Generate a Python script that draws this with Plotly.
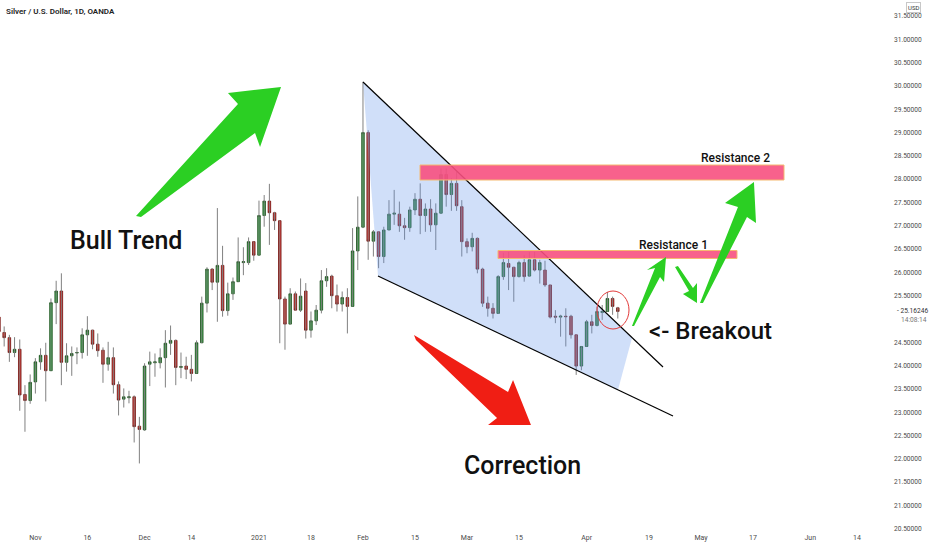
import pandas as pd
import plotly.graph_objects as go

# OANDA XAG/USD daily bars, 22 Oct 2020 - 9 Apr 2021 (no bars on 25 Dec / 1 Jan)
HOLIDAYS = ["2020-12-25", "2021-01-01"]
dates = pd.bdate_range("2020-10-22", "2021-04-09", freq="C", holidays=HOLIDAYS)

opens = [
    25.04, 24.71, 24.60, 24.28, 24.35, 23.38, 23.25, 23.65, 24.08, 24.22,
    23.89, 25.35, 25.60, 24.07, 24.21, 24.27, 24.28, 24.66, 24.76, 24.46,
    24.33, 24.03, 24.17, 23.59, 23.28, 23.31, 23.33, 22.70, 22.62, 24.03,
    24.06, 24.06, 24.17, 24.48, 24.54, 23.96, 23.99, 23.92, 23.83, 24.49,
    25.34, 26.07, 25.79, 26.15, 25.18, 25.54, 25.80, 26.21, 26.21, 26.66,
    26.37, 27.22, 27.53, 27.28, 27.11, 25.43, 24.89, 25.54, 25.19, 25.60,
    24.76, 24.96, 25.19, 25.82, 25.92, 25.50, 25.32, 25.46, 25.27, 26.46,
    26.97, 29.00, 26.67, 26.87, 26.34, 26.91, 27.25, 27.25, 27.00, 26.96,
    27.34, 27.57, 27.22, 27.36, 27.02, 27.27, 28.10, 27.67, 27.91, 27.41,
    26.66, 26.55, 26.73, 26.07, 25.34, 25.23, 25.12, 25.91, 26.19, 26.11,
    25.91, 26.21, 25.92, 26.27, 26.05, 26.05, 25.73, 25.06, 25.04, 25.06,
    25.06, 24.66, 23.99, 24.41, 24.94, 24.86, 25.14, 25.16, 25.44, 25.24,
]
highs = [
    25.09, 24.84, 24.66, 24.61, 24.56, 23.58, 23.81, 24.16, 24.37, 24.49,
    25.44, 25.82, 25.98, 24.48, 24.41, 24.39, 24.80, 25.06, 24.77, 24.69,
    24.39, 24.51, 24.39, 23.66, 23.51, 23.46, 23.36, 22.90, 24.05, 24.30,
    24.26, 24.37, 24.76, 24.86, 24.56, 24.28, 24.19, 24.23, 24.54, 25.48,
    26.11, 26.09, 27.38, 26.57, 25.78, 25.89, 26.75, 26.54, 26.75, 26.66,
    27.54, 27.66, 27.90, 27.30, 27.11, 25.48, 25.66, 25.59, 25.87, 25.77,
    25.16, 25.30, 26.05, 26.09, 25.95, 25.74, 25.59, 25.66, 26.95, 27.63,
    30.09, 29.05, 26.91, 26.87, 26.98, 27.55, 27.77, 27.52, 27.17, 27.41,
    27.70, 27.91, 27.48, 27.57, 27.48, 28.23, 28.23, 28.02, 28.16, 27.55,
    26.73, 26.85, 26.75, 26.10, 25.48, 25.34, 25.94, 26.42, 26.44, 26.12,
    26.25, 26.37, 26.44, 26.44, 26.27, 26.25, 25.73, 25.19, 25.09, 25.23,
    25.09, 24.66, 24.41, 24.98, 25.09, 25.26, 25.30, 25.58, 25.48, 25.26,
]
lows = [
    24.71, 24.41, 24.08, 24.18, 23.03, 22.58, 23.18, 23.40, 23.91, 23.23,
    23.89, 24.89, 23.58, 23.87, 23.78, 24.03, 24.15, 24.21, 24.35, 24.19,
    23.63, 23.89, 23.40, 22.93, 23.10, 23.19, 22.35, 21.90, 22.60, 23.56,
    23.76, 23.94, 23.53, 24.23, 23.58, 23.73, 23.71, 23.66, 23.83, 24.48,
    25.14, 25.62, 24.94, 25.05, 25.07, 25.41, 25.80, 25.94, 26.16, 26.25,
    26.37, 26.98, 26.59, 26.91, 24.48, 24.34, 24.89, 25.18, 25.15, 24.58,
    24.60, 24.87, 25.12, 25.69, 25.23, 25.16, 25.16, 24.69, 25.27, 26.05,
    26.95, 26.27, 26.34, 26.09, 26.20, 26.91, 27.02, 26.87, 26.70, 26.87,
    27.23, 26.82, 26.87, 26.87, 26.48, 27.27, 27.41, 27.32, 27.32, 26.34,
    26.41, 26.45, 25.98, 25.26, 25.05, 25.01, 25.11, 25.84, 25.62, 25.37,
    25.89, 25.80, 25.91, 26.02, 25.76, 25.69, 25.01, 24.91, 24.62, 24.41,
    24.58, 23.80, 23.90, 24.41, 24.69, 24.84, 24.98, 25.16, 25.09, 25.01,
]
closes = [
    24.73, 24.60, 24.28, 24.35, 23.37, 23.25, 23.64, 24.08, 24.22, 23.89,
    25.35, 25.60, 24.07, 24.21, 24.26, 24.28, 24.66, 24.76, 24.46, 24.32,
    24.03, 24.17, 23.59, 23.26, 23.33, 23.33, 22.69, 22.63, 23.99, 24.08,
    24.08, 24.17, 24.48, 24.54, 23.96, 23.98, 23.92, 23.83, 24.49, 25.34,
    26.07, 25.79, 26.15, 25.18, 25.54, 25.80, 26.23, 26.23, 26.66, 26.37,
    27.22, 27.53, 27.28, 27.11, 25.43, 24.89, 25.54, 25.19, 25.49, 24.76,
    24.96, 25.19, 25.82, 25.91, 25.50, 25.32, 25.46, 25.27, 26.46, 26.97,
    29.00, 26.67, 26.87, 26.34, 26.91, 27.25, 27.27, 27.00, 26.96, 27.34,
    27.57, 27.22, 27.36, 27.02, 27.27, 28.10, 27.67, 27.91, 27.43, 26.66,
    26.55, 26.73, 26.07, 25.34, 25.23, 25.12, 25.91, 26.21, 26.11, 25.91,
    26.21, 25.91, 26.27, 26.05, 26.21, 25.73, 25.04, 25.04, 25.06, 25.05,
    24.66, 23.99, 24.41, 24.94, 24.86, 25.16, 25.16, 25.44, 25.27, 25.16246,
]

last_price = 25.16246
countdown = "14:08:14"

tick_dates = ["2020-11-02", "2020-11-16", "2020-12-01", "2020-12-14", "2021-01-04",
              "2021-01-18", "2021-02-01", "2021-02-15", "2021-03-01", "2021-03-15",
              "2021-04-01", "2021-04-19", "2021-05-03", "2021-05-17", "2021-06-01",
              "2021-06-14"]
tick_text = ["Nov", "16", "Dec", "14", "2021", "18", "Feb", "15", "Mar", "15",
             "Apr", "19", "May", "17", "Jun", "14"]
price_ticks = [20.5, 21.0, 21.5, 22.0, 22.5, 23.0, 23.5, 24.0, 24.5,
               25.5, 26.0, 26.5, 27.0, 27.5, 28.0, 28.5, 29.0, 29.5,
               30.0, 30.5, 31.0, 31.5]

# plot area in pixels, used to place the hand-drawn overlays
PW, PH = 893, 532


def paper(x, y):
    return x / PW, 1 - y / PH


def poly(points):
    pts = [paper(x, y) for x, y in points]
    return "M " + " L ".join(f"{a:.4f},{b:.4f}" for a, b in pts) + " Z"


body_top = [max(o, c) for o, c in zip(opens, closes)]
body_bot = [min(o, c) for o, c in zip(opens, closes)]

wick_x, wick_y = [], []
for d, lo, hi in zip(dates, lows, highs):
    wick_x += [d, d, None]
    wick_y += [lo, hi, None]

fig = go.Figure()

fig.add_trace(go.Scatter(
    x=wick_x, y=wick_y, mode="lines",
    line=dict(color="#808080", width=1),
    hoverinfo="skip", showlegend=False,
))
fig.add_trace(go.Candlestick(
    x=dates, open=opens, high=body_top, low=body_bot, close=closes,
    increasing=dict(fillcolor="#24a436", line=dict(color="#1c4d1c", width=0.8)),
    decreasing=dict(fillcolor="#e3201b", line=dict(color="#6b1511", width=0.8)),
    whiskerwidth=0, showlegend=False,
))

GREEN = "#2bcf23"
RED = "#f01e14"
PINK = "rgba(247,80,128,0.9)"

shapes = [
    # falling wedge fill and its two trend lines
    dict(type="path", path=poly([(363, 82), (632, 338), (618, 390), (378, 276)]),
         fillcolor="rgba(100,150,235,0.3)", line=dict(width=0)),
    dict(type="line", x0=paper(363, 82)[0], y0=paper(363, 82)[1],
         x1=paper(663, 367)[0], y1=paper(663, 367)[1], line=dict(color="black", width=1.2)),
    dict(type="line", x0=paper(378, 276)[0], y0=paper(378, 276)[1],
         x1=paper(673, 416)[0], y1=paper(673, 416)[1], line=dict(color="black", width=1.2)),
    # resistance zones
    dict(type="rect", x0=paper(420, 0)[0], x1=paper(784, 0)[0],
         y0=paper(0, 165)[1], y1=paper(0, 180)[1],
         fillcolor=PINK, line=dict(color="#f5b971", width=1)),
    dict(type="rect", x0=paper(498, 0)[0], x1=paper(737, 0)[0],
         y0=paper(0, 250.5)[1], y1=paper(0, 258.5)[1],
         fillcolor=PINK, line=dict(color="#f5b971", width=1)),
    # breakout circle
    dict(type="circle", x0=paper(597, 0)[0], x1=paper(629, 0)[0],
         y0=paper(0, 291)[1], y1=paper(0, 329)[1],
         line=dict(color="#e23a3a", width=1)),
    # arrows
    dict(type="path", path=poly([(136, 216), (238, 104), (228, 93), (281, 87),
                                 (260, 147), (255, 133), (141, 217)]),
         fillcolor=GREEN, line=dict(width=0)),
    dict(type="path", path=poly([(414, 335), (508, 392), (513, 380), (531, 425),
                                 (488, 425), (497, 418), (416, 340)]),
         fillcolor=RED, line=dict(width=0)),
    dict(type="path", path=poly([(632, 326), (655, 268), (647, 270), (666, 257),
                                 (664, 282), (660, 277), (634, 326)]),
         fillcolor=GREEN, line=dict(width=0)),
    dict(type="path", path=poly([(675, 267), (689, 291), (683, 294), (697, 303),
                                 (697, 283), (693, 288), (678, 266)]),
         fillcolor=GREEN, line=dict(width=0)),
    dict(type="path", path=poly([(700, 303), (738, 207), (725, 203), (754, 182),
                                 (756, 223), (747, 217), (703, 303)]),
         fillcolor=GREEN, line=dict(width=0)),
]
for s in shapes:
    s.setdefault("xref", "paper")
    s.setdefault("yref", "paper")
    fig.add_shape(**s)

TEXT_FONT = "Roboto, Liberation Sans, sans-serif"


def label(text, x, y, size, color="#111111", anchor="center", weight=500):
    px_, py_ = paper(x, y)
    fig.add_annotation(x=px_, y=py_, xref="paper", yref="paper", text=text,
                       showarrow=False, xanchor=anchor, yanchor="middle",
                       font=dict(family=TEXT_FONT, size=size, color=color, weight=weight))


label("Bull Trend", 126, 240, 25)
label("Correction", 522, 465, 25)
label("<- Breakout", 710, 331, 24)
label("Resistance 1", 673, 245, 12)
label("Resistance 2", 735, 158, 12)
label("Silver / U.S. Dollar, 1D, OANDA", 4, 12, 8, color="#222222", anchor="left", weight=600)

fig.add_annotation(x=1, y=last_price, xref="paper", yref="y", text=f"- {last_price:.5f}",
                   showarrow=False, xanchor="left", yanchor="middle", xshift=2,
                   font=dict(family=TEXT_FONT, size=6.6, color="#333333"))
fig.add_annotation(x=1, y=last_price, xref="paper", yref="y", text=countdown,
                   showarrow=False, xanchor="left", yanchor="middle", xshift=6, yshift=-9,
                   font=dict(family=TEXT_FONT, size=6.6, color="#777777"))
fig.add_annotation(x=1, y=1, xref="paper", yref="paper", text="USD",
                   showarrow=False, xanchor="left", yanchor="top", xshift=13, yshift=-2,
                   bordercolor="#c8c8c8", borderwidth=1, borderpad=1, bgcolor="white",
                   font=dict(family=TEXT_FONT, size=6, color="#333333"))

fig.update_layout(
    width=932, height=550,
    margin=dict(l=0, r=39, t=0, b=18),
    paper_bgcolor="white", plot_bgcolor="white",
    showlegend=False,
    font=dict(family=TEXT_FONT, color="#4a4a4a"),
)
fig.update_xaxes(
    type="date",
    range=["2020-10-22 04:48", "2021-06-22 22:05"],
    rangebreaks=[dict(bounds=["sat", "mon"]), dict(values=HOLIDAYS)],
    rangeslider_visible=False,
    tickvals=tick_dates, ticktext=tick_text,
    tickfont=dict(size=7, color="#4a4a4a"),
    showgrid=False, zeroline=False, showline=False, ticks="",
)
fig.update_yaxes(
    side="right",
    range=[20.429, 31.845],
    tickvals=price_ticks, tickformat=".5f",
    tickfont=dict(size=6.6, color="#4a4a4a"),
    showgrid=False, zeroline=False, showline=False, ticks="",
)

# the page's default body margin would push the 932x550 figure off the window
fig.write_html("out.html", config={"displayModeBar": False},
               post_script="document.body.style.margin='0';")
